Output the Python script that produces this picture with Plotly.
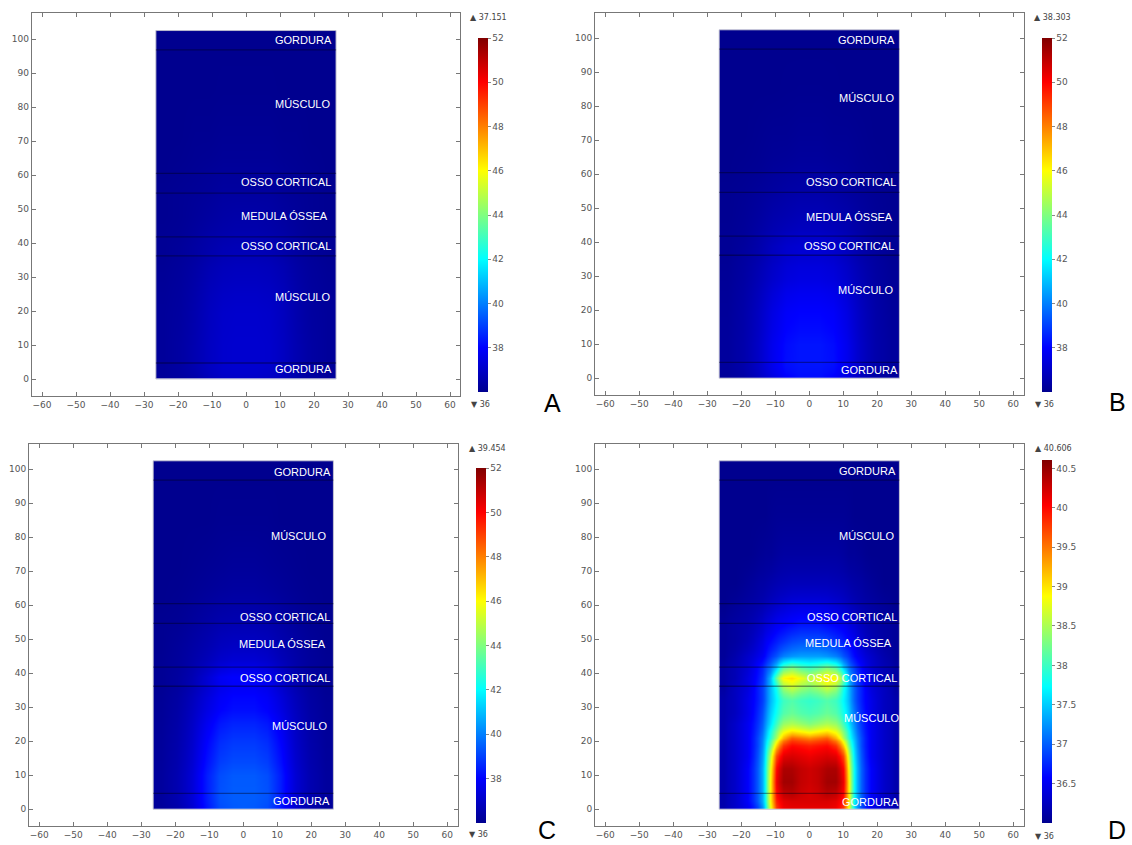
import plotly.graph_objects as go

W, H = 1132, 845

# ---------------------------------------------------------------------------
# Data: temperature (°C) in a cross-section of the limb, cells bounded by
# the edge arrays below (x: lateral position in mm, y: depth in mm).
# Rows go from bottom (y=0) to top.
# ---------------------------------------------------------------------------
x_edges_abc = [-26.5, -22, -17, -13, -9, -5, -1.5, 1.5, 5, 9, 13, 17, 22, 26.5]
y_edges_abc = [0, 2, 6, 14, 25, 33, 37.5, 40.5, 44, 52, 58, 65, 78, 92, 102.5]

temp_a = [
    [36.2, 36.3, 36.5, 36.8, 37.0, 37.05, 37.05, 37.05, 37.0, 36.8, 36.5, 36.3, 36.2],
    [36.2, 36.35, 36.6, 36.9, 37.1, 37.15, 37.15, 37.15, 37.1, 36.9, 36.6, 36.35, 36.2],
    [36.2, 36.35, 36.6, 36.9, 37.1, 37.15, 37.15, 37.15, 37.1, 36.9, 36.6, 36.35, 36.2],
    [36.2, 36.3, 36.55, 36.85, 37.05, 37.1, 37.1, 37.1, 37.05, 36.85, 36.55, 36.3, 36.2],
    [36.15, 36.25, 36.45, 36.7, 36.85, 36.9, 36.9, 36.9, 36.85, 36.7, 36.45, 36.25, 36.15],
    [36.1, 36.2, 36.35, 36.55, 36.7, 36.75, 36.75, 36.75, 36.7, 36.55, 36.35, 36.2, 36.1],
    [36.1, 36.2, 36.35, 36.5, 36.65, 36.7, 36.7, 36.7, 36.65, 36.5, 36.35, 36.2, 36.1],
    [36.1, 36.15, 36.3, 36.45, 36.55, 36.6, 36.6, 36.6, 36.55, 36.45, 36.3, 36.15, 36.1],
    [36.05, 36.1, 36.2, 36.3, 36.4, 36.45, 36.45, 36.45, 36.4, 36.3, 36.2, 36.1, 36.05],
    [36.05, 36.1, 36.15, 36.2, 36.3, 36.3, 36.3, 36.3, 36.3, 36.2, 36.15, 36.1, 36.05],
    [36.0, 36.05, 36.1, 36.15, 36.2, 36.2, 36.2, 36.2, 36.2, 36.15, 36.1, 36.05, 36.0],
    [36.0, 36.0, 36.05, 36.05, 36.1, 36.1, 36.1, 36.1, 36.1, 36.05, 36.05, 36.0, 36.0],
    [36.0, 36.0, 36.0, 36.0, 36.02, 36.02, 36.02, 36.02, 36.02, 36.0, 36.0, 36.0, 36.0],
    [36.0, 36.0, 36.0, 36.0, 36.0, 36.0, 36.0, 36.0, 36.0, 36.0, 36.0, 36.0, 36.0],
]

temp_b = [
    [36.2, 36.4, 36.9, 37.5, 38.0, 38.2, 38.2, 38.2, 38.0, 37.5, 36.9, 36.4, 36.2],
    [36.25, 36.5, 37.0, 37.7, 38.2, 38.3, 38.3, 38.3, 38.2, 37.7, 37.0, 36.5, 36.25],
    [36.25, 36.5, 37.0, 37.7, 38.15, 38.3, 38.3, 38.3, 38.15, 37.7, 37.0, 36.5, 36.25],
    [36.2, 36.45, 36.9, 37.5, 37.9, 38.0, 38.0, 38.0, 37.9, 37.5, 36.9, 36.45, 36.2],
    [36.15, 36.35, 36.7, 37.1, 37.4, 37.5, 37.5, 37.5, 37.4, 37.1, 36.7, 36.35, 36.15],
    [36.1, 36.3, 36.55, 36.9, 37.15, 37.25, 37.25, 37.25, 37.15, 36.9, 36.55, 36.3, 36.1],
    [36.1, 36.25, 36.5, 36.85, 37.1, 37.2, 37.2, 37.2, 37.1, 36.85, 36.5, 36.25, 36.1],
    [36.1, 36.2, 36.45, 36.7, 36.9, 37.0, 37.0, 37.0, 36.9, 36.7, 36.45, 36.2, 36.1],
    [36.05, 36.15, 36.3, 36.5, 36.6, 36.7, 36.7, 36.7, 36.6, 36.5, 36.3, 36.15, 36.05],
    [36.05, 36.1, 36.2, 36.3, 36.4, 36.45, 36.45, 36.45, 36.4, 36.3, 36.2, 36.1, 36.05],
    [36.0, 36.05, 36.1, 36.2, 36.25, 36.3, 36.3, 36.3, 36.25, 36.2, 36.1, 36.05, 36.0],
    [36.0, 36.0, 36.05, 36.1, 36.1, 36.15, 36.15, 36.15, 36.1, 36.1, 36.05, 36.0, 36.0],
    [36.0, 36.0, 36.0, 36.0, 36.02, 36.03, 36.03, 36.03, 36.02, 36.0, 36.0, 36.0, 36.0],
    [36.0, 36.0, 36.0, 36.0, 36.0, 36.0, 36.0, 36.0, 36.0, 36.0, 36.0, 36.0, 36.0],
]

temp_c = [
    [36.2, 36.5, 37.2, 38.3, 39.2, 39.4, 39.45, 39.4, 39.2, 38.3, 37.2, 36.5, 36.2],
    [36.25, 36.6, 37.3, 38.4, 39.3, 39.45, 39.45, 39.45, 39.3, 38.4, 37.3, 36.6, 36.25],
    [36.25, 36.6, 37.3, 38.4, 39.2, 39.4, 39.4, 39.4, 39.2, 38.4, 37.3, 36.6, 36.25],
    [36.2, 36.5, 37.1, 38.0, 38.7, 38.9, 38.9, 38.9, 38.7, 38.0, 37.1, 36.5, 36.2],
    [36.15, 36.4, 36.9, 37.5, 38.0, 38.2, 38.2, 38.2, 38.0, 37.5, 36.9, 36.4, 36.15],
    [36.1, 36.3, 36.7, 37.2, 37.7, 37.9, 37.9, 37.9, 37.7, 37.2, 36.7, 36.3, 36.1],
    [36.1, 36.3, 36.65, 37.2, 37.8, 38.0, 38.0, 38.0, 37.8, 37.2, 36.65, 36.3, 36.1],
    [36.1, 36.25, 36.55, 36.9, 37.3, 37.5, 37.5, 37.5, 37.3, 36.9, 36.55, 36.25, 36.1],
    [36.05, 36.2, 36.4, 36.6, 36.85, 36.95, 36.95, 36.95, 36.85, 36.6, 36.4, 36.2, 36.05],
    [36.05, 36.1, 36.25, 36.4, 36.55, 36.6, 36.6, 36.6, 36.55, 36.4, 36.25, 36.1, 36.05],
    [36.0, 36.05, 36.15, 36.25, 36.35, 36.4, 36.4, 36.4, 36.35, 36.25, 36.15, 36.05, 36.0],
    [36.0, 36.0, 36.05, 36.1, 36.15, 36.2, 36.2, 36.2, 36.15, 36.1, 36.05, 36.0, 36.0],
    [36.0, 36.0, 36.0, 36.0, 36.05, 36.05, 36.05, 36.05, 36.05, 36.0, 36.0, 36.0, 36.0],
    [36.0, 36.0, 36.0, 36.0, 36.0, 36.0, 36.0, 36.0, 36.0, 36.0, 36.0, 36.0, 36.0],
]

x_edges_d = [-26.5, -24, -20, -16.5, -14, -12.25, -10.75, -9, -6.5, -3.75, -1.25,
             1.25, 3.75, 6.5, 9, 10.75, 12.25, 14, 16.5, 20, 24, 26.5]
y_edges_d = [0, 1.5, 3.5, 6, 10, 14, 17.5, 20, 22, 24, 26.5, 30, 34, 37.3, 40,
             43.5, 47, 52, 57.5, 63, 70, 80, 93, 102.5]

temp_d = [
    [36.15, 36.3, 36.5, 36.9, 37.6, 38.8, 39.8, 40.1, 40.15, 40.15, 40.15, 40.15, 40.15, 40.1, 39.8, 38.8, 37.6, 36.9, 36.5, 36.3, 36.15],
    [36.15, 36.3, 36.55, 37.0, 37.7, 38.9, 39.9, 40.15, 40.2, 40.2, 40.2, 40.2, 40.2, 40.15, 39.9, 38.9, 37.7, 37.0, 36.55, 36.3, 36.15],
    [36.15, 36.3, 36.55, 37.0, 37.7, 38.9, 40.0, 40.3, 40.35, 40.25, 40.2, 40.25, 40.35, 40.3, 40.0, 38.9, 37.7, 37.0, 36.55, 36.3, 36.15],
    [36.15, 36.3, 36.55, 37.0, 37.7, 38.9, 40.1, 40.45, 40.45, 40.3, 40.25, 40.3, 40.45, 40.45, 40.1, 38.9, 37.7, 37.0, 36.55, 36.3, 36.15],
    [36.15, 36.3, 36.55, 37.0, 37.7, 38.8, 40.0, 40.4, 40.4, 40.3, 40.25, 40.3, 40.4, 40.4, 40.0, 38.8, 37.7, 37.0, 36.55, 36.3, 36.15],
    [36.15, 36.3, 36.5, 36.95, 37.6, 38.6, 39.7, 40.15, 40.2, 40.15, 40.1, 40.15, 40.2, 40.15, 39.7, 38.6, 37.6, 36.95, 36.5, 36.3, 36.15],
    [36.15, 36.3, 36.5, 36.9, 37.5, 38.2, 39.1, 39.8, 40.0, 39.95, 39.9, 39.95, 40.0, 39.8, 39.1, 38.2, 37.5, 36.9, 36.5, 36.3, 36.15],
    [36.15, 36.3, 36.5, 36.9, 37.4, 37.9, 38.5, 39.2, 39.6, 39.5, 39.4, 39.5, 39.6, 39.2, 38.5, 37.9, 37.4, 36.9, 36.5, 36.3, 36.15],
    [36.15, 36.3, 36.5, 36.85, 37.3, 37.8, 38.3, 38.8, 39.0, 38.9, 38.8, 38.9, 39.0, 38.8, 38.3, 37.8, 37.3, 36.85, 36.5, 36.3, 36.15],
    [36.15, 36.3, 36.5, 36.8, 37.2, 37.6, 38.0, 38.4, 38.5, 38.4, 38.3, 38.4, 38.5, 38.4, 38.0, 37.6, 37.2, 36.8, 36.5, 36.3, 36.15],
    [36.15, 36.25, 36.45, 36.75, 37.1, 37.5, 37.8, 38.1, 38.2, 38.1, 38.05, 38.1, 38.2, 38.1, 37.8, 37.5, 37.1, 36.75, 36.45, 36.25, 36.15],
    [36.15, 36.25, 36.45, 36.7, 37.0, 37.4, 37.7, 38.0, 38.1, 38.0, 37.95, 38.0, 38.1, 38.0, 37.7, 37.4, 37.0, 36.7, 36.45, 36.25, 36.15],
    [36.1, 36.25, 36.4, 36.7, 37.0, 37.4, 37.8, 38.4, 38.6, 38.4, 38.3, 38.4, 38.6, 38.4, 37.8, 37.4, 37.0, 36.7, 36.4, 36.25, 36.1],
    [36.1, 36.2, 36.4, 36.65, 36.95, 37.4, 38.2, 38.9, 39.0, 38.8, 38.6, 38.8, 39.0, 38.9, 38.2, 37.4, 36.95, 36.65, 36.4, 36.2, 36.1],
    [36.1, 36.2, 36.35, 36.6, 36.85, 37.1, 37.5, 38.1, 38.3, 38.1, 38.0, 38.1, 38.3, 38.1, 37.5, 37.1, 36.85, 36.6, 36.35, 36.2, 36.1],
    [36.05, 36.15, 36.3, 36.45, 36.6, 36.8, 36.95, 37.15, 37.25, 37.3, 37.3, 37.3, 37.25, 37.15, 36.95, 36.8, 36.6, 36.45, 36.3, 36.15, 36.05],
    [36.05, 36.1, 36.2, 36.35, 36.5, 36.6, 36.7, 36.8, 36.9, 36.95, 36.95, 36.95, 36.9, 36.8, 36.7, 36.6, 36.5, 36.35, 36.2, 36.1, 36.05],
    [36.05, 36.1, 36.15, 36.25, 36.35, 36.42, 36.5, 36.55, 36.6, 36.65, 36.65, 36.65, 36.6, 36.55, 36.5, 36.42, 36.35, 36.25, 36.15, 36.1, 36.05],
    [36.0, 36.05, 36.1, 36.15, 36.2, 36.25, 36.3, 36.35, 36.4, 36.42, 36.42, 36.42, 36.4, 36.35, 36.3, 36.25, 36.2, 36.15, 36.1, 36.05, 36.0],
    [36.0, 36.0, 36.05, 36.1, 36.12, 36.15, 36.18, 36.2, 36.22, 36.22, 36.22, 36.22, 36.22, 36.2, 36.18, 36.15, 36.12, 36.1, 36.05, 36.0, 36.0],
    [36.0, 36.0, 36.0, 36.03, 36.05, 36.05, 36.08, 36.1, 36.1, 36.1, 36.1, 36.1, 36.1, 36.1, 36.08, 36.05, 36.05, 36.03, 36.0, 36.0, 36.0],
    [36.0, 36.0, 36.0, 36.0, 36.0, 36.02, 36.03, 36.03, 36.03, 36.03, 36.03, 36.03, 36.03, 36.03, 36.03, 36.02, 36.0, 36.0, 36.0, 36.0, 36.0],
    [36.0] * 21,
]

# Color ranges and extreme values per panel
panel_names = ["A", "B", "C", "D"]
t_min = [36, 36, 36, 36]
t_max = [37.151, 38.303, 39.454, 40.606]
scale_max = [52, 52, 52, 40.606]
cbar_ticks_abc = [38, 40, 42, 44, 46, 48, 50, 52]
cbar_ticks_d = [36.5, 37, 37.5, 38, 38.5, 39, 39.5, 40, 40.5]

# Tissue geometry (mm)
tissue_x = [-26.5, 26.5]
tissue_y = [0, 102.5]
layer_bounds = [4.7, 36.2, 41.8, 54.7, 60.5, 96.8]
layer_names = ["GORDURA", "MÚSCULO", "OSSO CORTICAL", "MEDULA ÓSSEA",
               "OSSO CORTICAL", "MÚSCULO", "GORDURA"]
label_x = [
    [16.8, 16.7, 11.8, 11.2, 11.8, 16.7, 16.8],
    [16.7, 16.7, 12.3, 11.7, 11.7, 16.4, 17.6],
    [17.3, 16.1, 12.3, 11.4, 12.3, 16.4, 17.0],
    [17.0, 16.7, 12.7, 11.4, 12.7, 18.2, 17.9],
]
label_y = [
    [99.7, 80.9, 57.9, 47.9, 39.1, 24.1, 2.9],
    [99.5, 82.4, 57.6, 47.3, 39.0, 26.1, 2.5],
    [99.2, 80.3, 56.7, 48.7, 38.7, 24.5, 2.5],
    [99.5, 80.3, 56.7, 49.0, 38.7, 26.9, 2.2],
]

x_ticks = list(range(-60, 61, 10))
y_ticks = list(range(0, 101, 10))
x_range = [-63, 63]
y_range = [-5, 107.6]

JET = [[0.0, "rgb(0,0,143)"], [0.125, "rgb(0,0,255)"], [0.375, "rgb(0,255,255)"],
       [0.625, "rgb(255,255,0)"], [0.875, "rgb(255,0,0)"], [1.0, "rgb(128,0,0)"]]

# Layout in pixels: plot boxes, colorbar boxes, marker texts and panel letters
plot_box = [(31.8, 460.2, 13.2, 396.0), (595.1, 1023.5, 12.5, 395.3),
            (29.1, 457.5, 443.5, 826.3), (595.1, 1023.5, 443.5, 826.3)]
cbar_box = [(478, 38, 392), (1042, 38, 392), (476, 468, 823), (1042, 460, 823)]
max_pos = [(468, 18), (1032, 18), (467, 448), (1033, 448)]
min_pos = [(469, 404), (1033, 404), (467, 834), (1033, 836)]
letter_pos = [(552, 403), (1117, 402), (547, 830), (1117, 830)]

grids = [(x_edges_abc, y_edges_abc, temp_a), (x_edges_abc, y_edges_abc, temp_b),
         (x_edges_abc, y_edges_abc, temp_c), (x_edges_d, y_edges_d, temp_d)]


def px_x(v):
    return v / W


def px_y(v):
    return 1 - v / H


AXIS_FONT = dict(family="DejaVu Sans", size=9, color="#555555")
LABEL_FONT = dict(family="Liberation Sans, Arial", size=11, color="white")

fig = go.Figure()
layout = dict(
    width=W, height=H, margin=dict(l=0, r=0, t=0, b=0),
    paper_bgcolor="white", plot_bgcolor="white", showlegend=False,
)
shapes, annotations = [], []

for i in range(4):
    n = i + 1
    xs, ys, zs = grids[i]
    cx, cy0, cy1 = cbar_box[i]
    ticks = cbar_ticks_d if i == 3 else cbar_ticks_abc
    fig.add_trace(go.Heatmap(
        x=xs, y=ys, z=zs, zsmooth="best", zmin=t_min[i], zmax=scale_max[i],
        colorscale=JET, hoverinfo="skip", xaxis=f"x{n}", yaxis=f"y{n}",
        colorbar=dict(
            x=px_x(cx), xanchor="left", xpad=0, ypad=0,
            y=px_y(cy1), yanchor="bottom", len=(cy1 - cy0) / H, lenmode="fraction",
            thickness=10, thicknessmode="pixels", outlinewidth=0,
            tickvals=ticks, ticktext=[f"{t:g}" for t in ticks],
            ticks="outside", ticklen=3, tickcolor="#888888",
            tickfont=AXIS_FONT,
        ),
    ))

    l, r, t, b = plot_box[i]
    common = dict(showgrid=False, zeroline=False, showline=True, linecolor="#777777",
                  linewidth=1, mirror="ticks", ticks="inside", ticklen=4,
                  tickcolor="#777777", tickfont=AXIS_FONT, fixedrange=True)
    layout[f"xaxis{n}"] = dict(domain=[px_x(l), px_x(r)], range=x_range,
                               tickvals=x_ticks, anchor=f"y{n}", **common)
    layout[f"yaxis{n}"] = dict(domain=[px_y(b), px_y(t)], range=y_range,
                               tickvals=y_ticks, anchor=f"x{n}", **common)
    # faint labels along the top edge
    layout[f"xaxis{n + 4}"] = dict(overlaying=f"x{n}", side="top", anchor=f"y{n}",
                                   range=x_range, tickvals=x_ticks, showgrid=False,
                                   zeroline=False, showline=False, ticks="",
                                   tickfont=dict(family="DejaVu Sans", size=9, color="#dedede"),
                                   fixedrange=True)

    # tissue outline and layer interfaces
    shapes.append(dict(type="rect", xref=f"x{n}", yref=f"y{n}",
                       x0=tissue_x[0], x1=tissue_x[1], y0=tissue_y[0], y1=tissue_y[1],
                       line=dict(color="rgba(190,190,205,0.9)", width=1)))
    for yb in layer_bounds:
        shapes.append(dict(type="line", xref=f"x{n}", yref=f"y{n}",
                           x0=tissue_x[0], x1=tissue_x[1], y0=yb, y1=yb,
                           line=dict(color="rgba(0,0,20,0.4)", width=1.3)))

    for name, lx, ly in zip(layer_names, label_x[i], label_y[i]):
        annotations.append(dict(x=lx, y=ly, xref=f"x{n}", yref=f"y{n}", text=name,
                                showarrow=False, font=LABEL_FONT,
                                xanchor="center", yanchor="middle"))

    mx, my = max_pos[i]
    annotations.append(dict(x=px_x(mx), y=px_y(my), xref="paper", yref="paper",
                            text=f"▲ {t_max[i]:.3f}", showarrow=False,
                            xanchor="left", yanchor="middle",
                            font=dict(family="DejaVu Sans", size=8, color="#444444")))
    nx, ny = min_pos[i]
    annotations.append(dict(x=px_x(nx), y=px_y(ny), xref="paper", yref="paper",
                            text=f"▼ {t_min[i]:g}", showarrow=False,
                            xanchor="left", yanchor="middle",
                            font=dict(family="DejaVu Sans", size=8, color="#444444")))
    ax_, ay_ = letter_pos[i]
    annotations.append(dict(x=px_x(ax_), y=px_y(ay_), xref="paper", yref="paper",
                            text=panel_names[i], showarrow=False,
                            xanchor="center", yanchor="middle",
                            font=dict(family="Liberation Sans, Arial", size=25, color="black")))

layout["shapes"] = shapes
layout["annotations"] = annotations
fig.update_layout(**layout)
fig.write_html("out.html")
